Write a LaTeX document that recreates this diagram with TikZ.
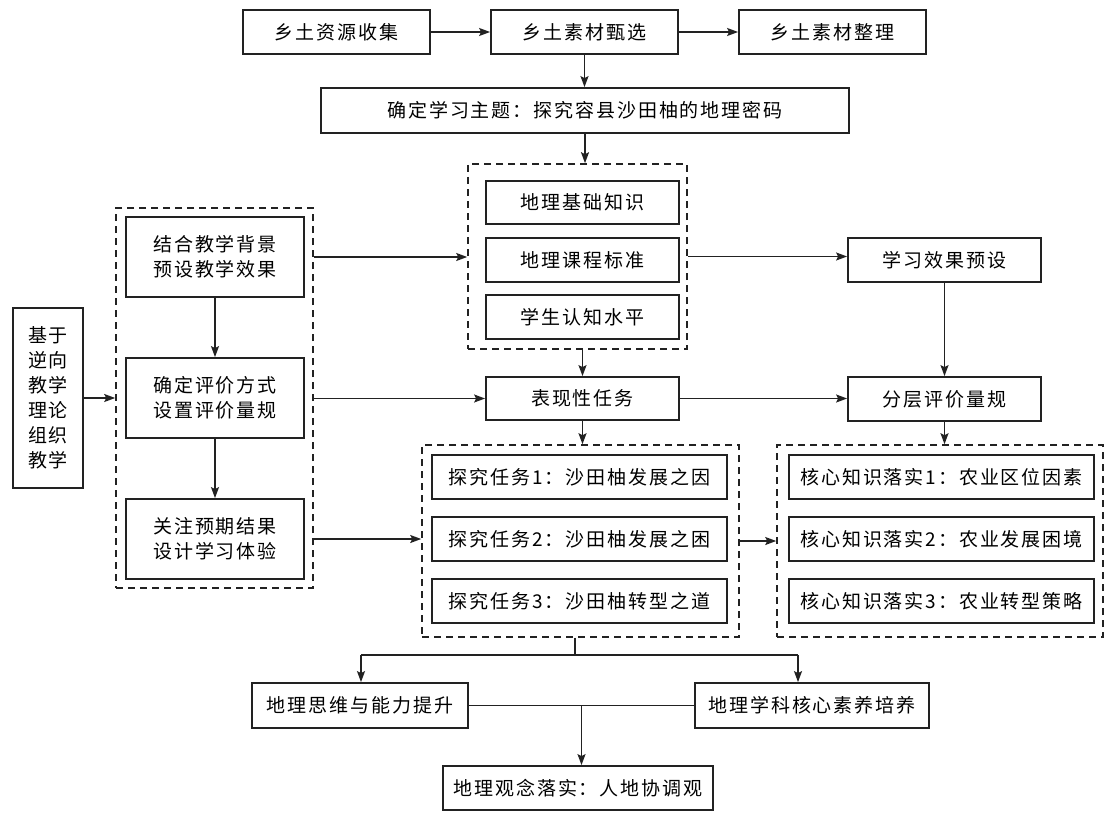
\documentclass[tikz,border=0pt]{standalone}
\usepackage{fontspec}
\setmainfont{Noto Sans CJK SC}[LetterSpace=10]
\usetikzlibrary{arrows.meta,calc}
\definecolor{inkc}{HTML}{222222}
\begin{document}
\begin{tikzpicture}[x=1pt,y=-1pt,
  every node/.style={font=\fontsize{19}{25}\selectfont, inner sep=0pt, align=center, text=black},
  box/.style={draw=inkc, line width=1.8pt, minimum height=44pt},
  dbox/.style={draw=inkc, line width=1.6pt, dash pattern=on 7pt off 5pt},
  arr/.style={draw=inkc, line width=1.5pt, -{Stealth[length=11pt,width=8pt,inset=2pt]}},
  plain/.style={draw=inkc, line width=1.5pt}]
\useasboundingbox (0,0) rectangle (1107,813);
\fill[white] (0,0) rectangle (1107,813);
% top row
\node[box, minimum width=187] (a1) at (336.5,32) {乡土资源收集};
\node[box, minimum width=187] (a2) at (584.5,32) {乡土素材甄选};
\node[box, minimum width=187] (a3) at (832.5,32) {乡土素材整理};
\node[box, minimum width=528, minimum height=45] (a4) at (585,110.5) {确定学习主题：探究容县沙田柚的地理密码};
% dashed box 1
\node[dbox, minimum width=219, minimum height=185] (d1) at (577.5,256.5) {};
\node[box, minimum width=193, minimum height=43] (k1) at (582.5,202.5) {地理基础知识};
\node[box, minimum width=193, minimum height=44] (k2) at (582.5,260) {地理课程标准};
\node[box, minimum width=193, minimum height=44] (k3) at (582.5,317) {学生认知水平};
\node[box, minimum width=193] (lx) at (944.5,260) {学习效果预设};
\node[box, minimum width=193, minimum height=43] (bx) at (582.5,398.5) {表现性任务};
\node[box, minimum width=193] (fc) at (944.5,399) {分层评价量规};
% left
\node[box, minimum width=70, minimum height=180] (jy) at (48,398) {基于\\逆向\\教学\\理论\\组织\\教学};
\node[dbox, minimum width=197, minimum height=380] (ld) at (214.5,398) {};
\node[box, minimum width=178, minimum height=80] (l1) at (215,257) {结合教学背景\\预设教学效果};
\node[box, minimum width=178, minimum height=80] (l2) at (215,398) {确定评价方式\\设置评价量规};
\node[box, minimum width=178, minimum height=80] (l3) at (215,539) {关注预期结果\\设计学习体验};
% dashed box 2
\node[dbox, minimum width=317, minimum height=192] (d2) at (580.5,541) {};
\node[box, minimum width=295] (t1) at (579.5,477) {探究任务1：沙田柚发展之因};
\node[box, minimum width=295] (t2) at (579.5,539) {探究任务2：沙田柚发展之困};
\node[box, minimum width=295] (t3) at (579.5,601) {探究任务3：沙田柚转型之道};
% dashed box 3
\node[dbox, minimum width=326, minimum height=192] (d3) at (940,541) {};
\node[box, minimum width=305] (h1) at (941.5,477) {核心知识落实1：农业区位因素};
\node[box, minimum width=305] (h2) at (941.5,539) {核心知识落实2：农业发展困境};
\node[box, minimum width=305] (h3) at (941.5,601) {核心知识落实3：农业转型策略};
% bottom
\node[box, minimum width=216, minimum height=45] (sw) at (360,705.5) {地理思维与能力提升};
\node[box, minimum width=234, minimum height=45] (xk) at (812,705.5) {地理学科核心素养培养};
\node[box, minimum width=270] (gn) at (578,788) {地理观念落实：人地协调观};
% connectors
\draw[arr] (a1) -- (a2);
\draw[arr] (a2) -- (a3);
\draw[arr] (a2.south) -- (a2.south |- a4.north);
\draw[arr] (a4.south) -- (a4.south |- d1.north);
\draw[arr] (ld.east |- l1) -- (d1.west |- l1);
\draw[arr] (d1.east) -- (d1.east -| lx.west);
\draw[arr] (bx.north |- d1.south) -- (bx.north);
\draw[arr] (bx.south) -- (bx.south |- d2.north);
\draw[arr] (lx.south) -- (fc.north);
\draw[arr] (fc.south) -- (fc.south |- d3.north);
\draw[arr] (jy) -- (ld);
\draw[arr] (ld.east |- bx.west) -- (bx.west);
\draw[arr] (ld.east |- t2) -- (d2.west |- t2);
\draw[arr] (bx.east) -- (bx.east -| fc.west);
\draw[arr] (d2.east) -- (d3.west);
\draw[arr] (l1) -- (l2);
\draw[arr] (l2) -- (l3);
\coordinate (bl) at (361,655);
\coordinate (brr) at (798,655);
\coordinate (bm) at (575,655);
\draw[plain] (bm |- d2.south) -- (bm);
\draw[plain] (bl) -- (brr);
\draw[arr] (bl) -- (bl |- sw.north);
\draw[arr] (brr) -- (brr |- xk.north);
\draw[plain] (sw.east) -- (xk.west);
\coordinate (mj) at ($(sw.east)!0.5!(xk.west)$);
\draw[arr] (mj) -- (mj |- gn.north);
\end{tikzpicture}
\end{document}
